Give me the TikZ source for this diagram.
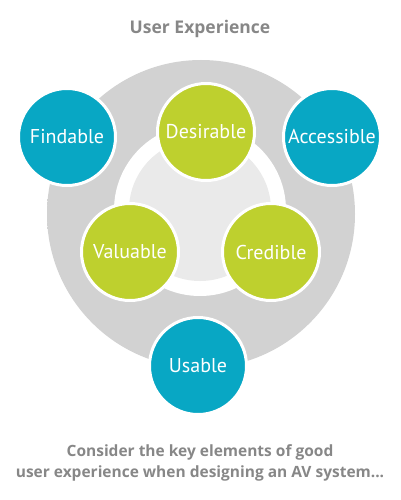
\documentclass[tikz,border=0pt]{standalone}
\usepackage{fontspec}
\setmainfont{PT Sans}
\newfontfamily\capfont{Open Sans}
\definecolor{uxblue}{RGB}{8,167,196}
\definecolor{uxgreen}{RGB}{190,208,46}
\definecolor{uxgray}{RGB}{135,135,135}
\definecolor{uxdisc}{RGB}{210,210,210}
\definecolor{uxedge}{RGB}{226,226,226}
\definecolor{uxcore}{RGB}{234,234,234}
\pgfdeclareradialshading{uxring}{\pgfpoint{0bp}{0bp}}{color(0bp)=(uxdisc); color(30bp)=(uxdisc); color(44bp)=(uxdisc); color(50bp)=(uxedge)}
\begin{document}
\begin{tikzpicture}[x=1pt,y=-1pt,
   bub/.style={circle,draw=white,line width=3pt,minimum size=97pt,inner sep=0pt,
      text=white,font=\fontsize{20}{24}\selectfont},
   elemb/.style={bub,fill=uxblue},
   elemg/.style={bub,fill=uxgreen},
   caption/.style={text=uxgray,font=\capfont\bfseries\fontsize{#1}{21}\selectfont,align=center}]
   \useasboundingbox (0,0) rectangle (400,500);
   % 背景の円
   \shade[shading=uxring] (201,214) circle[radius=154];
   \fill[white] (200,210) circle[radius=86];
   \fill[uxcore] (200,210) circle[radius=71];

   \node[caption=17.5] (title) at (200,29) {User Experience};

   \node[elemb] (find) at (67,137) {Findable};
   \node[elemg] (desi) at (206,132) {Desirable};
   \node[elemb] (acce) at (332,137) {Accessible};
   \node[elemg] (valu) at (130,252) {Valuable};
   \node[elemg] (cred) at (271,252) {Credible};
   \node[elemb] (usab) at (198,366) {Usable};

   \node[caption=15.5] (note) at (200,463) {Consider the key elements of good\\user experience when designing an AV system...};
\end{tikzpicture}
\end{document}
